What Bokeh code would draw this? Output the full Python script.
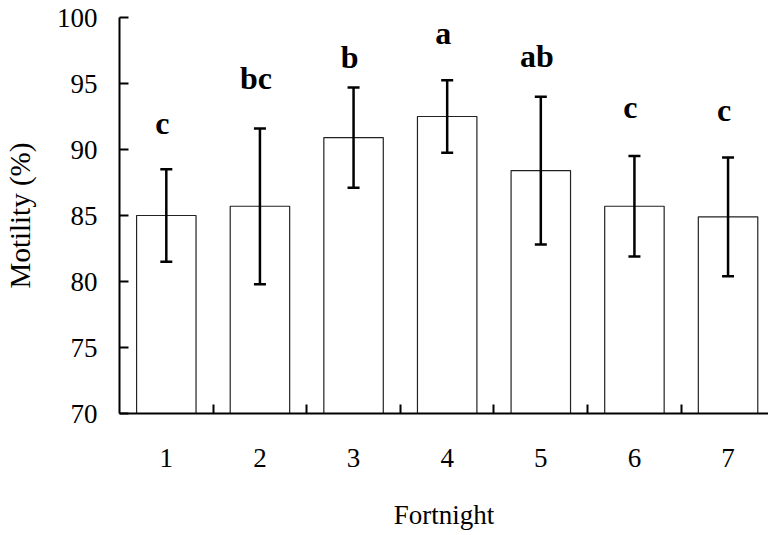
from bokeh.plotting import figure
from bokeh.models import Range1d, FixedTicker, ColumnDataSource
from bokeh.core.properties import value
from bokeh.embed import file_html
from bokeh.resources import INLINE

# ---- data ----
fortnights = [1, 2, 3, 4, 5, 6, 7]
motility = [85.0, 85.7, 90.9, 92.5, 88.4, 85.7, 84.9]
sem = [3.5, 5.9, 3.8, 2.75, 5.6, 3.8, 4.5]
letters = ["c", "bc", "b", "a", "ab", "c", "c"]
letter_y = [92.0, 95.4, 97.0, 98.8, 97.1, 93.2, 93.0]
y_ticks = [70, 75, 80, 85, 90, 95, 100]

FONT = "Liberation Serif"

src = ColumnDataSource(dict(
    x=fortnights,
    top=motility,
    upper=[m + s for m, s in zip(motility, sem)],
    lower=[m - s for m, s in zip(motility, sem)],
    letters=letters,
    ly=letter_y,
))

p = figure(width=768, height=532, output_backend="svg", toolbar_location=None,
           x_range=Range1d(0.5, 7.432), y_range=Range1d(70, 100),
           min_border_left=115, min_border_right=0, min_border_top=17,
           min_border_bottom=118)
p.outline_line_color = None
p.xgrid.grid_line_color = None
p.ygrid.grid_line_color = None
p.background_fill_color = "white"
p.border_fill_color = "white"

p.vbar(x="x", top="top", bottom=70, width=0.635, source=src,
       fill_color="white", line_color="#222222", line_width=1.2)

# error bars (drawn after bars so they sit on top)
p.segment(x0="x", y0="lower", x1="x", y1="upper", source=src,
          line_color="black", line_width=2.5)
p.scatter(x="x", y="upper", source=src, marker="dash", size=12,
          line_color="black", line_width=2.5)
p.scatter(x="x", y="lower", source=src, marker="dash", size=12,
          line_color="black", line_width=2.5)

p.text(x="x", y="ly", text="letters", source=src,
       text_font=value(FONT), text_font_style="bold", text_font_size="32px",
       text_align="center", text_baseline="alphabetic", x_offset=-4,
       text_color="black")

# x axis
p.xaxis.ticker = FixedTicker(ticks=fortnights,
                             minor_ticks=[f + 0.5 for f in fortnights[:-1]])
p.xaxis.minor_tick_in = 9
p.xaxis.minor_tick_out = 0
p.xaxis.minor_tick_line_width = 2
p.xaxis.minor_tick_line_color = "black"
p.xaxis.major_label_standoff = 29
p.xaxis.axis_label = "Fortnight"
p.xaxis.axis_label_standoff = 30

# y axis
p.yaxis.ticker = FixedTicker(ticks=y_ticks)
p.yaxis.major_tick_in = 9
p.yaxis.major_tick_out = 0
p.yaxis.major_tick_line_width = 2
p.yaxis.major_tick_line_color = "black"
p.yaxis.minor_tick_line_color = None
p.yaxis.major_label_standoff = 22
p.yaxis.axis_label = "Motility (%)"
p.yaxis.axis_label_standoff = 18

for ax in (p.xaxis, p.yaxis):
    ax.axis_line_width = 2
    ax.axis_line_color = "black"
    ax.major_label_text_font = FONT
    ax.major_label_text_font_size = "27px"
    ax.major_label_text_color = "black"
    ax.axis_label_text_font = FONT
    ax.axis_label_text_font_style = "normal"
    ax.axis_label_text_color = "black"

p.xaxis.major_tick_line_color = None
p.xaxis.axis_label_text_font_size = "27px"
p.yaxis.axis_label_text_font_size = "29px"

open("out.html", "w").write(file_html(p, INLINE))
